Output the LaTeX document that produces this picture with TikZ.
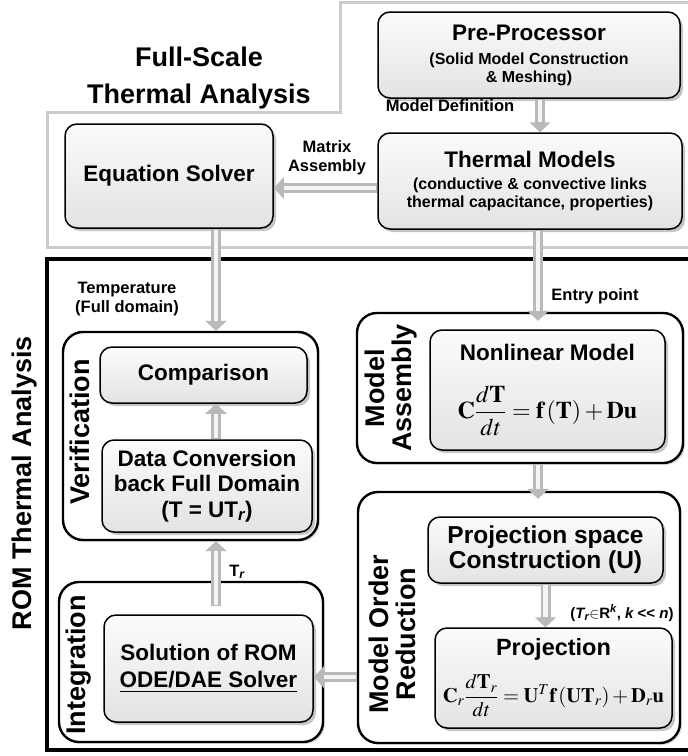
\documentclass[tikz,border=0pt]{standalone}
\usepackage{mathptmx}
\usepackage[no-math]{fontspec}
\setmainfont{Liberation Sans}
\usetikzlibrary{shadows,arrows.meta,calc}
\newcommand\ttlfont{\fontsize{22.5}{25}\selectfont}
\newcommand\subfontx{\fontsize{16}{18}\selectfont}
\newcommand\lblfont{\fontsize{16.5}{19}\selectfont}
\newcommand\grpfont{\fontsize{27}{27}\selectfont}
\begin{document}
\begin{tikzpicture}[x=1pt,y=-1pt,
  blk/.style={draw=black, line width=1.5pt, rounded corners=12pt,
    top color=gray!3, bottom color=gray!22,
    drop shadow={shadow xshift=3pt,shadow yshift=-3pt,opacity=0.45},
    align=center, inner sep=2pt},
  grp/.style={draw=black, line width=2.4pt, rounded corners=20pt, fill=white,
    drop shadow={shadow xshift=2pt,shadow yshift=-2pt,opacity=0.25}},
  arr/.style={draw=gray!55, line width=10pt, -{Triangle[width=21pt,length=10pt]},
    postaction={draw=gray!8, line width=4.5pt, arrows=-, shorten >=10pt, shorten <=1pt}},
  lbl/.style={font=\bfseries\lblfont, align=center, inner sep=1pt},
  grplbl/.style={font=\bfseries\grpfont, align=center, inner sep=1pt, rotate=90},
  fsline/.style={draw=gray!40, line width=3pt},
  romline/.style={draw=black, line width=3.5pt}]
\useasboundingbox (0,0) rectangle (688,756);
\clip (0,0) rectangle (688,756);
\fill[white] (0,0) rectangle (688,756);

% region frames
\draw[fsline] (700,2) -- (340,2) -- (340,112) -- (47,112) -- (47,247) -- (700,247);
\draw[romline] (700,259) -- (47,259) -- (47,750) -- (700,750);

% region titles
\node[font=\bfseries\fontsize{27}{37}\selectfont, align=center] (fst) at (199,78) {Full-Scale\\Thermal Analysis};
\node[font=\bfseries\fontsize{27}{27}\selectfont, rotate=90] (romt) at (25,483) {ROM Thermal Analysis};

% groups
\node[grp, minimum width=255pt, minimum height=208pt] (ver) at (190.5,436) {};
\node[grp, minimum width=264pt, minimum height=160pt] (int) at (191,662) {};
\node[grp, minimum width=326pt, minimum height=150pt] (ma) at (520,388) {};
\node[grp, minimum width=322pt, minimum height=251pt] (mor) at (519,617.5) {};

% group labels
\node[grplbl] (verl) at (80,432) {Verification};
\node[grplbl] (intl) at (79,665) {Integration};
\node[grplbl] (mal) at (391,388) {Model\\Assembly};
\node[grplbl] (morl) at (392,634) {Model Order\\Reduction};

% column / row helpers
\coordinate (cpp) at (540,0);
\coordinate (cl) at (216,0);
\coordinate (cr) at (538,0);
\coordinate (rm) at (0,188);
\coordinate (rb) at (0,677);

% nodes
\node[blk, font=\bfseries\subfontx, minimum width=302pt, minimum height=86pt] (pre) at (529,55)
  {{\ttlfont Pre-Processor}\\[6pt](Solid Model Construction\\\& Meshing)};
\node[blk, font=\bfseries\subfontx, minimum width=304pt, minimum height=96pt] (tm) at (530,181)
  {{\ttlfont Thermal Models}\\[4pt](conductive \& convective links\\thermal capacitance, properties)};
\node[blk, font=\bfseries\ttlfont, minimum width=208pt, minimum height=104pt] (eq) at (169,176)
  {Equation Solver};
\node[blk, font=\bfseries\ttlfont, minimum width=207pt, minimum height=56pt] (cmp) at (203.5,375)
  {Comparison};
\node[blk, font=\bfseries\fontsize{22.5}{25.5}\selectfont, minimum width=210pt, minimum height=92pt] (dc) at (207,486)
  {Data Conversion\\back Full Domain\\(T = UT\textsubscript{\itshape r})};
\node[blk, font=\bfseries\fontsize{22.5}{27}\selectfont, minimum width=209pt, minimum height=107pt] (sol) at (208.5,668.5)
  {Solution of ROM\\\underline{ODE/DAE Solver}};
\node[blk, font=\bfseries\ttlfont, minimum width=235pt, minimum height=120pt] (nl) at (547.5,390)
  {Nonlinear Model\\[24pt]
   {\fontsize{24}{24}\selectfont $\displaystyle \mathbf{C}\frac{d\mathbf{T}}{dt}=\mathbf{f}\left(\mathbf{T}\right)+\mathbf{Du}$}};
\node[blk, font=\bfseries\fontsize{24.5}{25}\selectfont, minimum width=235pt, minimum height=66pt] (ps) at (545.5,550)
  {Projection space\\Construction (U)};
\node[blk, font=\bfseries\fontsize{23.5}{25}\selectfont, minimum width=237pt, minimum height=100pt] (proj) at (553.5,678)
  {Projection\\[13pt]
   {\fontsize{20.5}{20.5}\selectfont $\displaystyle \mathbf{C}_r\frac{d\mathbf{T}_r}{dt}=\mathbf{U}^T\mathbf{f}\left(\mathbf{U}\mathbf{T}_r\right)+\mathbf{D}_r\mathbf{u}$}};

% arrows
\draw[arr] (cpp |- pre.south) -- (cpp |- tm.north);
\draw[arr] (tm.west |- rm) -- (eq.east |- rm);
\draw[arr] (cl |- eq.south) -- (cl |- ver.north);
\draw[arr] (cl |- dc.north) -- (cl |- cmp.south);
\draw[arr] ($(cl |- sol.north)+(0,-8)$) -- (cl |- ver.south);
\draw[arr] (cr |- tm.south) -- ($(cr |- ma.north)+(0,9)$);
\draw[arr] (cr |- ma.south) -- ($(cr |- mor.north)+(0,8)$);
\draw[arr] (ps.south) -- (ps.south |- proj.north);
\draw[arr] (mor.west |- rb) -- (sol.east |- rb);

% connector labels
\node[lbl] (mdl) at (450,106) {Model Definition};
\node[lbl] (mxa) at (327,158) {Matrix\\Assembly};
\node[lbl] (tmp) at (127,299) {Temperature\\(Full domain)};
\node[lbl] (ent) at (595,296) {Entry point};
\node[lbl] (trl) at (237,572) {T\textsubscript{\itshape r}};
\node[lbl, font=\bfseries\fontsize{15}{18}\selectfont] (kl) at (622,613)
  {({\itshape T\textsubscript{r}}$\in$R\textsuperscript{\itshape k}, {\itshape k} <{}< {\itshape n})};
\end{tikzpicture}
\end{document}
